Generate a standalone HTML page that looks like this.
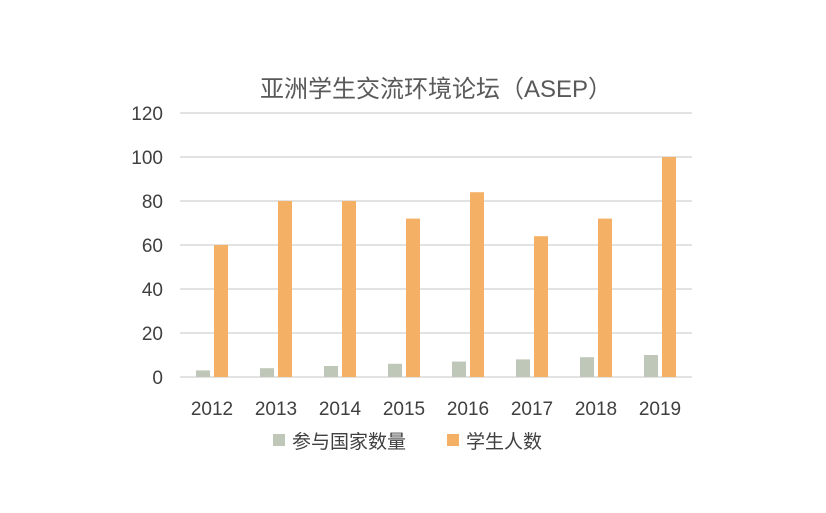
<!DOCTYPE html>
<html><head><meta charset="utf-8"><style>
body{margin:0;background:#fff;}
svg text{font-family:"Liberation Sans","Noto Sans CJK SC",sans-serif;fill:#404040;}
</style></head><body>
<svg width="826" height="508" xmlns="http://www.w3.org/2000/svg">
<text x="436" y="97" font-size="24" text-anchor="middle" fill="#595959" style="fill:#595959">亚洲学生交流环境论坛（ASEP）</text>
<g stroke="#d9d9d9" stroke-width="1.5">
<line x1="180" x2="692" y1="113" y2="113"/><line x1="180" x2="692" y1="157" y2="157"/>
<line x1="180" x2="692" y1="201" y2="201"/><line x1="180" x2="692" y1="245" y2="245"/>
<line x1="180" x2="692" y1="289" y2="289"/><line x1="180" x2="692" y1="333" y2="333"/>
<line x1="180" x2="692" y1="377" y2="377"/>
</g>
<g font-size="19" text-anchor="end">
<text x="163" y="120">120</text><text x="163" y="164">100</text><text x="163" y="208">80</text>
<text x="163" y="252">60</text><text x="163" y="296">40</text><text x="163" y="340">20</text><text x="163" y="384">0</text>
</g>
<g fill="#bfc7b8">
<rect x="196" y="370.4" width="14" height="6.6"/><rect x="260" y="368.2" width="14" height="8.8"/>
<rect x="324" y="366" width="14" height="11"/><rect x="388" y="363.8" width="14" height="13.2"/>
<rect x="452" y="361.6" width="14" height="15.4"/><rect x="516" y="359.4" width="14" height="17.6"/>
<rect x="580" y="357.2" width="14" height="19.8"/><rect x="644" y="355" width="14" height="22"/>
</g>
<g fill="#f4b166">
<rect x="214" y="245" width="14" height="132"/><rect x="278" y="201" width="14" height="176"/>
<rect x="342" y="201" width="14" height="176"/><rect x="406" y="218.6" width="14" height="158.4"/>
<rect x="470" y="192.2" width="14" height="184.8"/><rect x="534" y="236.2" width="14" height="140.8"/>
<rect x="598" y="218.6" width="14" height="158.4"/><rect x="662" y="157" width="14" height="220"/>
</g>
<g font-size="19" text-anchor="middle">
<text x="212" y="415">2012</text><text x="276" y="415">2013</text><text x="340" y="415">2014</text>
<text x="404" y="415">2015</text><text x="468" y="415">2016</text><text x="532" y="415">2017</text>
<text x="596" y="415">2018</text><text x="660" y="415">2019</text>
</g>
<rect x="273" y="434" width="12" height="12" fill="#bfc7b8"/>
<text x="292" y="448" font-size="19">参与国家数量</text>
<rect x="447" y="434" width="12" height="12" fill="#f4b166"/>
<text x="466" y="448" font-size="19">学生人数</text>
</svg>
</body></html>
